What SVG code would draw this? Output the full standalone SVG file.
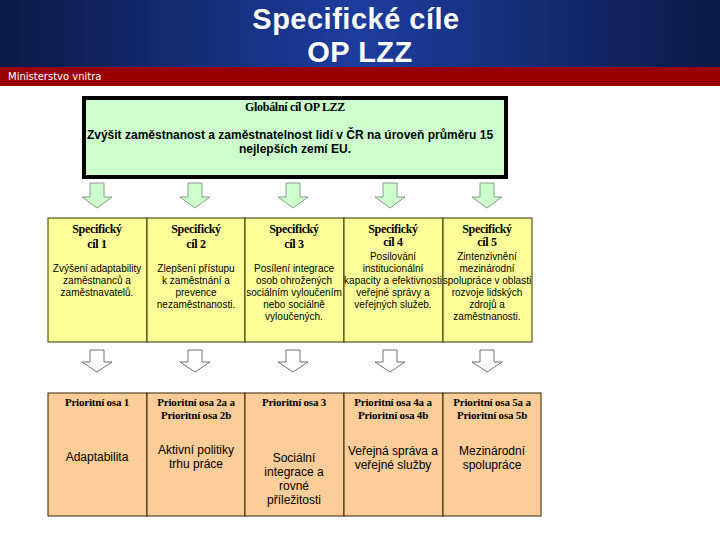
<svg xmlns="http://www.w3.org/2000/svg" width="720" height="540" viewBox="0 0 720 540">
<defs>
<linearGradient id="hdr" x1="0" y1="0" x2="1" y2="0">
<stop offset="0" stop-color="#0c1a48"/>
<stop offset="0.5" stop-color="#1d3d9e"/>
<stop offset="1" stop-color="#0c1a48"/>
</linearGradient>
<path id="garrow" d="M-7,0 H7 V14 H15 L0,25 L-15,14 H-7 Z"/>
<path id="warrow" d="M-7,0 H7 V12 H15 L0,22 L-15,12 H-7 Z"/>
</defs>
<style>
.title{font-family:"Liberation Sans",Arial,sans-serif;font-weight:bold;font-size:29px;fill:#ffffff;text-anchor:middle;letter-spacing:0.5px}
.ministry{font-family:"DejaVu Sans",sans-serif;font-size:10px;fill:#ffffff}
.hd{font-family:"Liberation Serif",serif;font-weight:bold;font-size:12px;fill:#000;text-anchor:middle;letter-spacing:-0.3px}
.hd2{font-family:"Liberation Serif",serif;font-weight:bold;font-size:11px;fill:#000;text-anchor:middle;letter-spacing:-0.2px}
.gl{font-family:"Liberation Sans",sans-serif;font-weight:bold;font-size:12px;fill:#000;text-anchor:middle}
.sm{font-family:"Liberation Sans",sans-serif;font-size:10px;fill:#000;text-anchor:middle}
.md{font-family:"Liberation Sans",sans-serif;font-size:12px;fill:#000;text-anchor:middle}
.ybox{fill:#ffff99;stroke:#333300;stroke-width:1}
.obox{fill:#fccc99;stroke:#332200;stroke-width:1}
.ga{fill:#ccffcc;stroke:#8a9a8a;stroke-width:1}
.wa{fill:#ffffff;stroke:#707070;stroke-width:1}
</style>
<rect x="0" y="0" width="720" height="67" fill="url(#hdr)"/>
<rect x="0" y="67" width="720" height="19" fill="#990000"/>
<text class="title" x="356" y="29">Specifické cíle</text>
<text class="title" x="360" y="62">OP LZZ</text>
<text class="ministry" x="8" y="80">Ministerstvo vnitra</text>

<g id="global">
<rect x="84" y="98" width="422" height="79" fill="#ccffcc" stroke="#000" stroke-width="4"/>
<text class="hd" x="295" y="111">Globální cíl OP LZZ</text>
<text class="gl" x="290" y="139">Zvýšit zaměstnanost a zaměstnatelnost lidí v ČR na úroveň průměru 15</text>
<text class="gl" x="295" y="153">nejlepších zemí EU.</text>
</g>

<g id="connectors">
<use href="#garrow" x="97" y="183" class="ga"/>
<use href="#garrow" x="195" y="183" class="ga"/>
<use href="#garrow" x="293" y="183" class="ga"/>
<use href="#garrow" x="390" y="183" class="ga"/>
<use href="#garrow" x="487" y="183" class="ga"/>
<use href="#warrow" x="97" y="350" class="wa"/>
<use href="#warrow" x="195" y="350" class="wa"/>
<use href="#warrow" x="293" y="350" class="wa"/>
<use href="#warrow" x="390" y="350" class="wa"/>
<use href="#warrow" x="487" y="350" class="wa"/>
</g>

<g id="cil1">
<rect class="ybox" x="48" y="218" width="99" height="124"/>
<text class="hd" x="97" y="233">Specifický</text>
<text class="hd" x="97" y="248">cíl 1</text>
<text class="sm" x="97" y="272">Zvýšení adaptability</text>
<text class="sm" x="97" y="284">zaměstnanců a</text>
<text class="sm" x="97" y="296">zaměstnavatelů.</text>
</g>
<g id="cil2">
<rect class="ybox" x="147" y="218" width="98" height="124"/>
<text class="hd" x="196" y="233">Specifický</text>
<text class="hd" x="196" y="248">cíl 2</text>
<text class="sm" x="196" y="272">Zlepšení přístupu</text>
<text class="sm" x="196" y="284">k zaměstnání a</text>
<text class="sm" x="196" y="296">prevence</text>
<text class="sm" x="196" y="308">nezaměstnanosti.</text>
</g>
<g id="cil3">
<rect class="ybox" x="245" y="218" width="99" height="124"/>
<text class="hd" x="294" y="233">Specifický</text>
<text class="hd" x="294" y="248">cíl 3</text>
<text class="sm" x="294" y="272">Posílení integrace</text>
<text class="sm" x="294" y="284">osob ohrožených</text>
<text class="sm" x="294" y="296">sociálním vyloučením</text>
<text class="sm" x="294" y="308">nebo sociálně</text>
<text class="sm" x="294" y="320">vyloučených.</text>
</g>
<g id="cil4">
<rect class="ybox" x="344" y="218" width="99" height="124"/>
<text class="hd" x="393" y="233">Specifický</text>
<text class="hd" x="393" y="246">cíl 4</text>
<text class="sm" x="393" y="260">Posilování</text>
<text class="sm" x="393" y="272">institucionální</text>
<text class="sm" x="393" y="284">kapacity a efektivnosti</text>
<text class="sm" x="393" y="296">veřejné správy a</text>
<text class="sm" x="393" y="308">veřejných služeb.</text>
</g>
<g id="cil5">
<rect class="ybox" x="443" y="218" width="89" height="124"/>
<text class="hd" x="487" y="233">Specifický</text>
<text class="hd" x="487" y="246">cíl 5</text>
<text class="sm" x="487" y="260">Zintenzivnění</text>
<text class="sm" x="487" y="272">mezinárodní</text>
<text class="sm" x="487" y="284">spolupráce v oblasti</text>
<text class="sm" x="487" y="296">rozvoje lidských</text>
<text class="sm" x="487" y="308">zdrojů a</text>
<text class="sm" x="487" y="320">zaměstnanosti.</text>
</g>

<g id="osa1">
<rect class="obox" x="48" y="393" width="99" height="123"/>
<text class="hd2" x="97" y="406">Prioritní osa 1</text>
<text class="md" x="97" y="461">Adaptabilita</text>
</g>
<g id="osa2">
<rect class="obox" x="147" y="393" width="98" height="123"/>
<text class="hd2" x="196" y="406">Prioritní osa 2a a</text>
<text class="hd2" x="196" y="419">Prioritní osa 2b</text>
<text class="md" x="196" y="454">Aktivní politiky</text>
<text class="md" x="196" y="468">trhu práce</text>
</g>
<g id="osa3">
<rect class="obox" x="245" y="393" width="99" height="123"/>
<text class="hd2" x="294" y="406">Prioritní osa 3</text>
<text class="md" x="294" y="462">Sociální</text>
<text class="md" x="294" y="476">integrace a</text>
<text class="md" x="294" y="490">rovné</text>
<text class="md" x="294" y="504">příležitosti</text>
</g>
<g id="osa4">
<rect class="obox" x="344" y="393" width="99" height="123"/>
<text class="hd2" x="393" y="406">Prioritní osa 4a a</text>
<text class="hd2" x="393" y="419">Prioritní osa 4b</text>
<text class="md" x="393" y="455">Veřejná správa a</text>
<text class="md" x="393" y="469">veřejné služby</text>
</g>
<g id="osa5">
<rect class="obox" x="443" y="393" width="98" height="123"/>
<text class="hd2" x="492" y="406">Prioritní osa 5a a</text>
<text class="hd2" x="492" y="419">Prioritní osa 5b</text>
<text class="md" x="492" y="455">Mezinárodní</text>
<text class="md" x="492" y="469">spolupráce</text>
</g>
</svg>
